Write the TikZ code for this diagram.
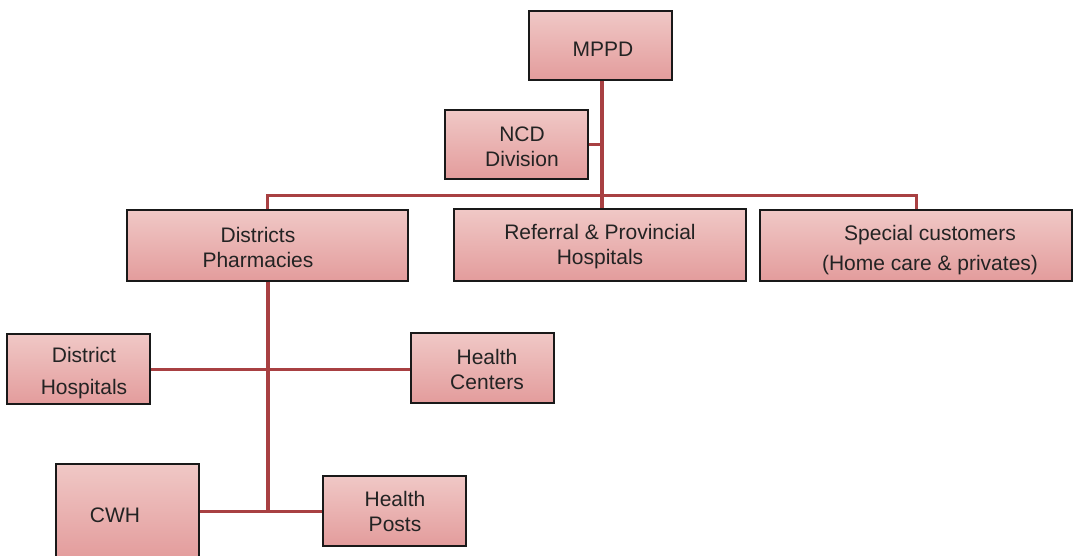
\documentclass[tikz,border=0pt]{standalone}
\usepackage{fontspec}
\setmainfont{Liberation Sans}
\usetikzlibrary{shadows}
\definecolor{boxtop}{RGB}{240,200,198}
\definecolor{boxbot}{RGB}{227,156,156}
\definecolor{linkred}{RGB}{168,64,66}
\definecolor{txt}{RGB}{35,35,35}
\tikzset{
  box/.style={rectangle, inner sep=0pt, draw=black!90, line width=1.1pt,
    top color=boxtop, bottom color=boxbot,
    drop shadow={shadow xshift=1.2pt, shadow yshift=-1.2pt, fill=black!35, opacity=0.5}},
  lbl/.style={text=txt, align=center, inner sep=0pt,
    font=\fontsize{21}{25}\selectfont},
  link/.style={draw=linkred, line width=3pt},
  trunk/.style={draw=linkred, line width=4pt}
}
\begin{document}
\begin{tikzpicture}[x=1pt, y=-1pt]
\useasboundingbox (0,0) rectangle (1073,556);

% boxes
\node[box, minimum width=143pt, minimum height=69pt] (mppd) at (600.5,45.5) {};
\node[box, minimum width=143pt, minimum height=69pt] (ncd)  at (516.5,144.5) {};
\node[box, minimum width=281pt, minimum height=71pt] (dist) at (267.5,245.5) {};
\node[box, minimum width=292pt, minimum height=72pt] (ref)  at (600,245) {};
\node[box, minimum width=312pt, minimum height=71pt] (spec) at (916,245.5) {};
\node[box, minimum width=143pt, minimum height=70pt] (dh)   at (78.5,369) {};
\node[box, minimum width=143pt, minimum height=70pt] (hc)   at (482.5,368) {};
\node[box, minimum width=143pt, minimum height=95pt] (cwh)  at (127.5,511.5) {};
\node[box, minimum width=143pt, minimum height=70pt] (hp)   at (394.5,511) {};

% texts
\node[lbl] (mppd-t) at (603,49) {MPPD};
\node[lbl] (ncd-t)  at (522,146.5) {NCD\\Division};
\node[lbl] (dist-t) at (258,247) {Districts\\Pharmacies};
\node[lbl] (ref-t)  at (600,247) {Referral \& Provincial\\Hospitals};
\node[lbl, font=\fontsize{21}{30}\selectfont] (spec-t) at (930,250) {Special customers\\(Home care \& privates)};
\node[lbl, font=\fontsize{21}{32}\selectfont] (dh-t) at (84,373.5) {District\\Hospitals};
\node[lbl] (hc-t)   at (487,369.5) {Health\\Centers};
\node[lbl] (cwh-t)  at (115,515) {CWH};
\node[lbl] (hp-t)   at (395,511.5) {Health\\Posts};

% connectors
\coordinate (bus) at (602,196);
\draw[trunk] (mppd.south -| bus) -- (ref.north -| bus);
\draw[link] (ncd.east) -- (ncd.east -| bus);
\draw[link] (dist.north) -- (dist.north |- bus) -- (spec.north |- bus) -- (spec.north);
\draw[trunk] (dist.south) -- (dist.south |- hp.west);
\draw[link] (dh.east) -- (dh.east -| hc.west);
\draw[link] (cwh.east |- hp.west) -- (hp.west);
\end{tikzpicture}
\end{document}
